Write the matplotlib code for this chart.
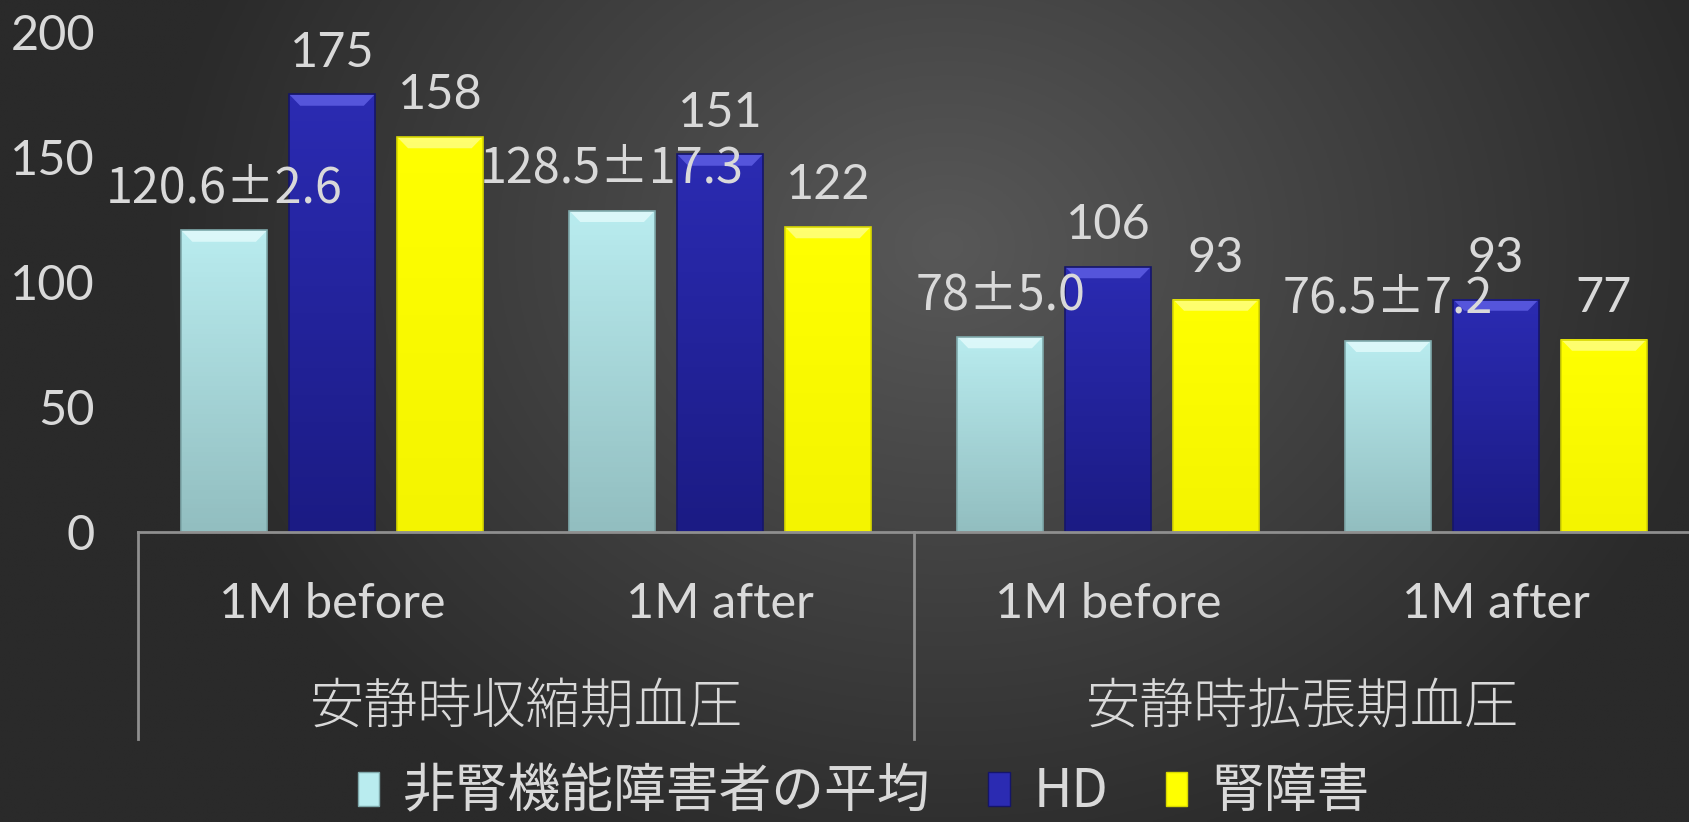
import numpy as np
import matplotlib
matplotlib.use('Agg')
import matplotlib.pyplot as plt
from matplotlib.patches import Patch, Polygon
from matplotlib import transforms

# 安静時血圧（運動開始前後）
groups = ['安静時収縮期血圧', '安静時拡張期血圧']
periods = ['1M before', '1M after', '1M before', '1M after']
series_names = ['非腎機能障害者の平均', 'HD', '腎障害']

normal_avg = [120.6, 128.5, 78, 76.5]
normal_sd = [2.6, 17.3, 5.0, 7.2]
hd_values = [175, 151, 106, 93]
renal_values = [158, 122, 93, 77]

yticks = [0, 50, 100, 150, 200]

TEXT = '#d9d9d9'
LINE = '#8f8f8f'
FONT = ['Lato', 'Noto Sans CJK JP', 'DejaVu Sans']
JP = ['Noto Sans CJK JP', 'DejaVu Sans']

# (上端色, 下端色, ベベル色, 枠線色)
styles = [
    ('#b9ecef', '#92bec0', '#e4fbfc', '#7fa9ab'),
    ('#2b2bb2', '#1b1b84', '#6060e6', '#15156a'),
    ('#ffff00', '#f4f400', '#ffff8a', '#d8d800'),
]

W, H, DPI = 1690, 822, 100
fig = plt.figure(figsize=(W / DPI, H / DPI), dpi=DPI)

# 背景の放射グラデーション
bg = fig.add_axes([0, 0, 1, 1])
bg.set_axis_off()
yy, xx = np.mgrid[0:1:300j, 0:1:600j]
r = np.sqrt(((xx - 0.56) / 0.47) ** 2 + ((yy - 0.3) / 0.8) ** 2)
r = np.clip(r, 0, 1)
light, dark = np.array([0x58, 0x58, 0x58]) / 255, np.array([0x2a, 0x2a, 0x2a]) / 255
img = light[None, None, :] * (1 - r[..., None]) + dark[None, None, :] * r[..., None]
bg.imshow(img, extent=[0, 1, 0, 1], aspect='auto', origin='upper')
bg.set_xlim(0, 1)
bg.set_ylim(0, 1)

ax = fig.add_axes([138 / W, 290 / H, (W - 138) / W, 500 / H])
ax.patch.set_alpha(0)
ax.set_xlim(-0.5, 3.5)
ax.set_ylim(0, 200)

x = np.arange(len(periods))
offset = 0.278
width = 0.22
all_values = [normal_avg, hd_values, renal_values]


def shade_bars(container, style):
    top_c, bot_c, bevel_c, edge_c = style
    c1 = np.array(matplotlib.colors.to_rgb(top_c))
    c2 = np.array(matplotlib.colors.to_rgb(bot_c))
    t = np.linspace(0, 1, 64)[:, None]
    grad = (c1 * (1 - t) + c2 * t)[:, None, :]
    for bar in container:
        x0, y0 = bar.get_x(), bar.get_y()
        w, h = bar.get_width(), bar.get_height()
        im = ax.imshow(grad, extent=[x0, x0 + w, y0, y0 + h], aspect='auto',
                       origin='upper', zorder=2)
        im.set_clip_path(bar)
        # 上端のベベル
        bh = 4.5
        bw = 0.028
        ax.add_patch(Polygon([[x0, y0 + h], [x0 + w, y0 + h],
                              [x0 + w - bw, y0 + h - bh], [x0 + bw, y0 + h - bh]],
                             closed=True, facecolor=bevel_c, edgecolor='none',
                             alpha=0.8, zorder=3))
        bar.set_zorder(4)
        bar.set_facecolor('none')
        bar.set_edgecolor(edge_c)
        bar.set_linewidth(1.2)


for i, vals in enumerate(all_values):
    cont = ax.bar(x + (i - 1) * offset, vals, width, color=styles[i][0])
    shade_bars(cont, styles[i])

# データラベル（平均値には±SDを付ける）
for i, vals in enumerate(all_values):
    for j, v in enumerate(vals):
        if i == 0:
            label = f'{v:g}±{normal_sd[j]:.1f}'
            fam = JP
        else:
            label = f'{v:g}'
            fam = FONT
        ax.annotate(label, (x[j] + (i - 1) * offset, v), xytext=(0, 30),
                    textcoords='offset points', ha='center', va='center',
                    fontsize=35, color=TEXT, family=fam, zorder=6)

# 軸まわり
for s in ax.spines.values():
    s.set_visible(False)
ax.set_yticks(yticks)
ax.set_yticklabels([str(t) for t in yticks], fontsize=35, color=TEXT, family=FONT)
ax.tick_params(axis='y', length=0, pad=31)
ax.set_xticks([])

trans = transforms.blended_transform_factory(ax.transData, ax.transAxes)
ax.plot([-0.5, 3.5], [0, 0], color=LINE, lw=2, transform=trans, clip_on=False, zorder=5)
for xv in [-0.5, 1.5, 3.5]:
    ax.plot([xv, xv], [0, -0.414], color=LINE, lw=2, transform=trans, clip_on=False)

for j, p in enumerate(periods):
    ax.text(x[j], -0.144, p, transform=trans, ha='center', va='center',
            fontsize=35, color=TEXT, family=FONT)
for g, name in enumerate(groups):
    ax.text(2 * g + 0.5, -0.352, name, transform=trans, ha='center', va='center',
            fontsize=39, color=TEXT, family=JP, fontweight='light')

handles = [Patch(facecolor=s[0], edgecolor=s[3], label=n) for s, n in zip(styles, series_names)]
leg = fig.legend(handles=handles, loc='center', bbox_to_anchor=(0.511, 0.0365), ncol=3,
                 frameon=False, handlelength=0.4, handleheight=0.6,
                 handletextpad=0.45, columnspacing=1.1, prop={'family': JP, 'size': 38})
for t in leg.get_texts():
    t.set_color(TEXT)

fig.savefig('out.png', dpi=DPI)
